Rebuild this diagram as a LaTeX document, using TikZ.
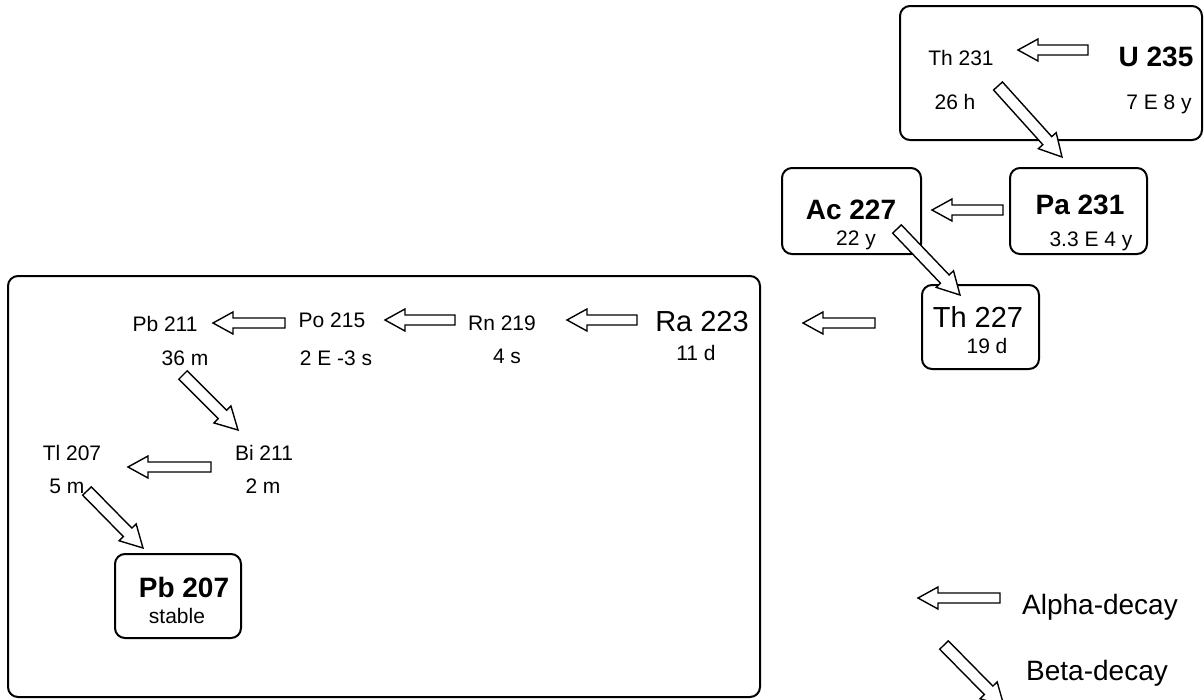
\documentclass[tikz,border=0pt]{standalone}
\usepackage{fontspec}
\setmainfont{Liberation Sans}
\usetikzlibrary{calc}
\tikzset{
  frame/.style={draw, line width=2pt, rounded corners=10pt, inner sep=0pt},
  decay/.style={draw, line width=1.4pt, fill=white, line join=miter},
  iso/.style={inner sep=0pt, text height=15pt, text depth=0pt, font=\fontsize{21}{21}\selectfont},
  big/.style={iso, text height=21pt, font=\fontsize{29}{29}\selectfont},
  heavy/.style={iso, text height=20pt, font=\fontsize{28}{28}\selectfont\bfseries},
  legend/.style={iso, text height=20pt, font=\fontsize{28}{28}\selectfont},
}
% tail, tip, shaft half width, head half width, head length
\newcommand{\blockarrow}[5]{%
  \coordinate (hb) at ($(#2)!#5!(#1)$);
  \draw[decay] ($(#1)!#3!90:(#2)$) -- ($(hb)!#3!90:(#2)$) -- ($(hb)!#4!90:(#2)$) -- (#2)
    -- ($(hb)!#4!-90:(#2)$) -- ($(hb)!#3!-90:(#2)$) -- ($(#1)!#3!-90:(#2)$) -- cycle;
}
\newcommand{\alphadecay}[2]{\blockarrow{#1}{#2}{5pt}{11pt}{20pt}}
\newcommand{\betadecay}[2]{\blockarrow{#1}{#2}{6pt}{12pt}{22pt}}

\begin{document}
\begin{tikzpicture}[x=1pt, y=-1pt]
  \clip (0,0) rectangle (1204,699);

  % Frames
  \node[frame, minimum width=302, minimum height=134] (uBox) at (1051,73) {};
  \node[frame, minimum width=137, minimum height=86] (paBox) at (1078.5,211) {};
  \node[frame, minimum width=139, minimum height=86] (acBox) at (851.5,211) {};
  \node[frame, minimum width=117, minimum height=84] (thBox) at (980.5,327) {};
  \node[frame, minimum width=752, minimum height=421] (raBox) at (384,486.5) {};
  \node[frame, minimum width=126, minimum height=84] (pbBox) at (178,596) {};

  % Nuclides and half-lives
  \node[iso] (th231) at (961,58) {Th 231};
  \node[iso] (th231t) at (955,102) {26 h};
  \node[heavy] (u235) at (1156,56) {U 235};
  \node[iso] (u235t) at (1159,102) {7 E 8 y};
  \node[heavy] (pa231) at (1080,204) {Pa 231};
  \node[iso] (pa231t) at (1091,239) {3.3 E 4 y};
  \node[heavy] (ac227) at (851,209) {Ac 227};
  \node[iso] (ac227t) at (856,238) {22 y};
  \node[big] (th227) at (978,317) {Th 227};
  \node[iso] (th227t) at (987,346) {19 d};
  \node[big] (ra223) at (702,321) {Ra 223};
  \node[iso] (ra223t) at (696,353) {11 d};
  \node[iso] (rn219) at (502,323) {Rn 219};
  \node[iso] (rn219t) at (507,356) {4 s};
  \node[iso] (po215) at (332,320) {Po 215};
  \node[iso] (po215t) at (336,358) {2 E -3 s};
  \node[iso] (pb211) at (165,324) {Pb 211};
  \node[iso] (pb211t) at (185,358) {36 m};
  \node[iso] (bi211) at (264,453) {Bi 211};
  \node[iso] (bi211t) at (263,486) {2 m};
  \node[iso] (tl207) at (72,453) {Tl 207};
  \node[iso] (tl207t) at (67,486) {5 m};
  \node[heavy] (pb207) at (184,587) {Pb 207};
  \node[iso] (pb207t) at (177,616) {stable};

  % Legend
  \node[legend] (alphaText) at (1100,604) {Alpha-decay};
  \node[legend] (betaText) at (1097,670) {Beta-decay};

  % Arrow ends
  \coordinate (a1t) at (1088,50);  \coordinate (a1h) at (1018,50);
  \coordinate (a2t) at (1003,210); \coordinate (a2h) at (932,210);
  \coordinate (a3t) at (875,323);  \coordinate (a3h) at (803,323);
  \coordinate (a4t) at (637,320);  \coordinate (a4h) at (567,320);
  \coordinate (a5t) at (455,320);  \coordinate (a5h) at (385,320);
  \coordinate (a6t) at (285,323);  \coordinate (a6h) at (213,323);
  \coordinate (a7t) at (211,467);  \coordinate (a7h) at (128,467);
  \coordinate (a8t) at (1000,598); \coordinate (a8h) at (918,598);
  \coordinate (b1t) at (998,86);   \coordinate (b1h) at (1062,157);
  \coordinate (b2t) at (897,229);  \coordinate (b2h) at (960,295);
  \coordinate (b3t) at (183,375);  \coordinate (b3h) at (238,430);
  \coordinate (b4t) at (87,491);   \coordinate (b4h) at (143,548);
  \coordinate (b5t) at (944,645);  \coordinate (b5h) at (1004,706);

  % Decays
  \foreach \n in {1,...,8} {\alphadecay{a\n t}{a\n h}}
  \foreach \n in {1,...,5} {\betadecay{b\n t}{b\n h}}
\end{tikzpicture}
\end{document}
